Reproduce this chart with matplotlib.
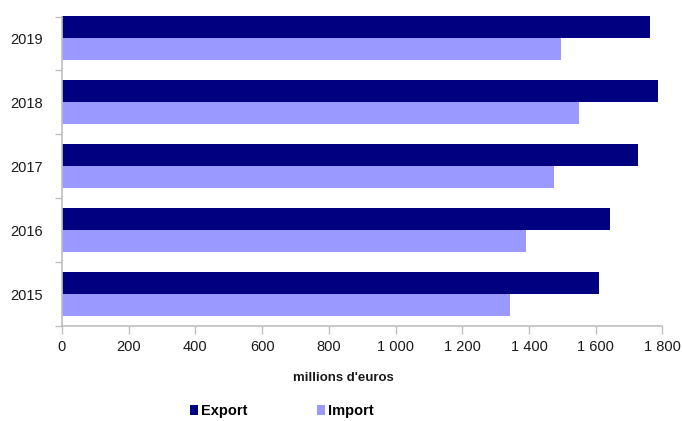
import matplotlib
matplotlib.use("Agg")
import matplotlib.pyplot as plt
from matplotlib.patches import Patch
from matplotlib import font_manager
import numpy as np

years = ["2015", "2016", "2017", "2018", "2019"]
export_vals = [1611, 1643, 1727, 1787, 1763]
import_vals = [1343, 1391, 1475, 1551, 1495]
xticks = [0, 200, 400, 600, 800, 1000, 1200, 1400, 1600, 1800]
xticklabels = ["0", "200", "400", "600", "800", "1 000", "1 200", "1 400", "1 600", "1 800"]

names = {f.name for f in font_manager.fontManager.ttflist}
narrow = 'Liberation Sans Narrow' in names
if narrow:
    plt.rcParams['font.family'] = ['Liberation Sans Narrow', 'DejaVu Sans']
    tsize, lsize, bsize = 12, 12, 11.5
else:
    plt.rcParams['font.family'] = ['Liberation Sans', 'DejaVu Sans']
    tsize, lsize, bsize = 10.5, 10.5, 9.5

W, H = 682, 421
fig = plt.figure(figsize=(W/100, H/100), dpi=100)
ax = fig.add_axes([62/W, 1-326/H, (662.4-62)/W, 320/H])

y = np.arange(len(years))
h = 22/64
ax.barh(y + h/2, export_vals, height=h, color="#000080", edgecolor="none")
ax.barh(y - h/2, import_vals, height=h, color="#9999FF", edgecolor="none")

ax.set_xlim(0, 1800)
ax.set_ylim(-0.5, 4.5)
ax.set_xticks(xticks)
ax.set_xticklabels(xticklabels, fontsize=tsize, color="#1a1a1a")
ax.set_yticks(y)
ax.set_yticklabels(years, fontsize=tsize, color="#1a1a1a")
ax.set_yticks(np.arange(-0.5, 4.4, 1.0).tolist() + [4.33], minor=True)
ax.tick_params(axis='y', which='major', length=0, pad=14)
ax.tick_params(axis='y', which='minor', length=5, color="#bfbfbf", width=1)
ax.tick_params(axis='x', length=6, color="#bfbfbf", width=1, pad=4)

for s in ['top', 'right']:
    ax.spines[s].set_visible(False)
for s in ['left', 'bottom']:
    ax.spines[s].set_color("#bfbfbf")
    ax.spines[s].set_linewidth(1.2)
ax.spines['left'].set_bounds(-0.5, 4.33)

fig.text(343/W, 1-378/H, "millions d'euros", ha="center", va="center",
         fontsize=bsize, fontweight="bold", color="#1a1a1a")

handles = [Patch(facecolor="#000080", label="Export"),
           Patch(facecolor="#9999FF", label="Import")]
leg = fig.legend(handles=handles, loc="center", bbox_to_anchor=(282/W, 1-411/H),
                 ncol=2, frameon=False, handlelength=0.55,
                 handleheight=0.7, handletextpad=0.2, columnspacing=4.8,
                 prop={'weight': 'bold', 'size': lsize})

fig.savefig("out.png", dpi=100)
